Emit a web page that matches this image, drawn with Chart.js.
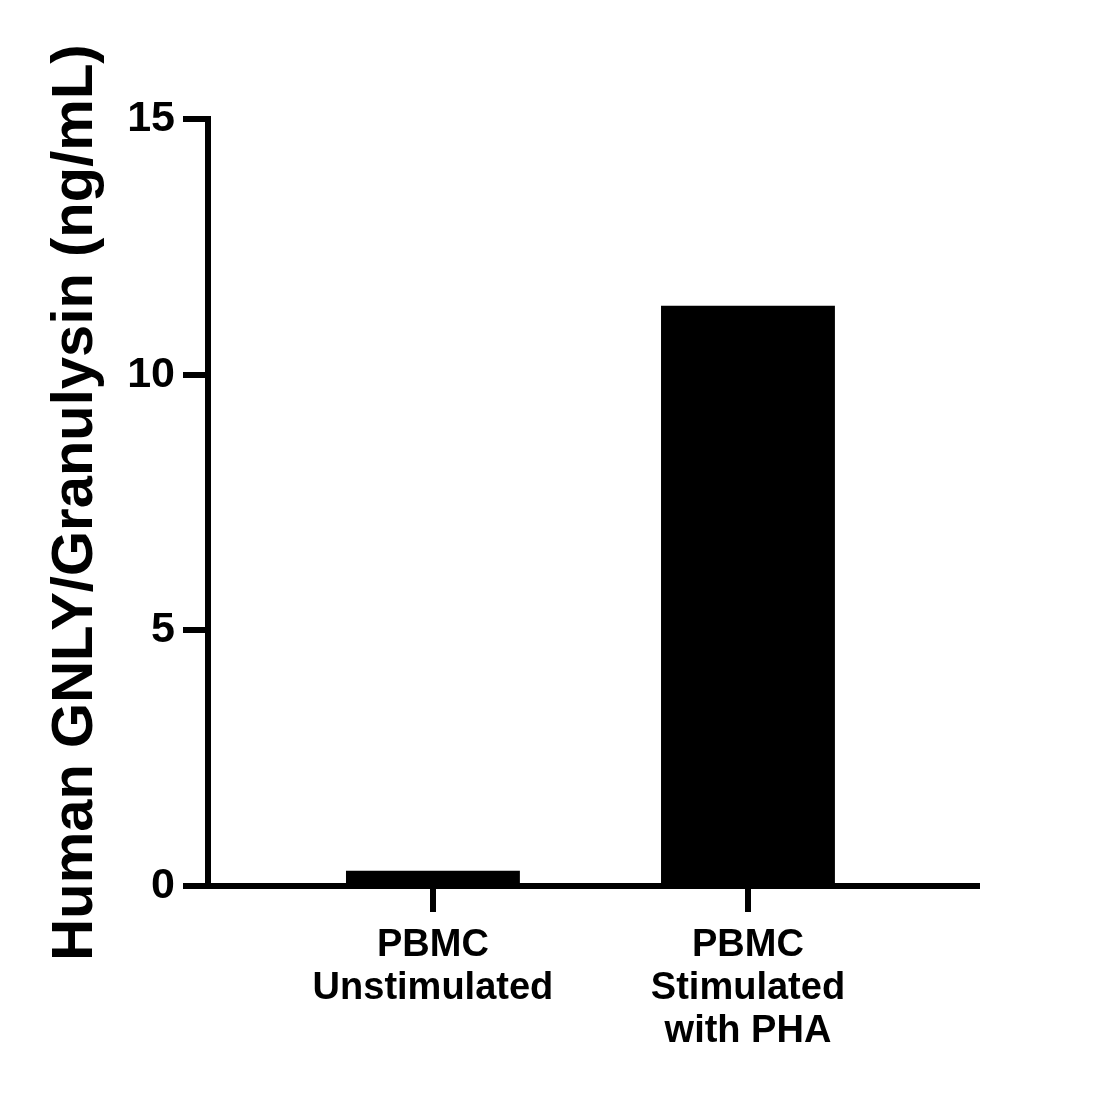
<!DOCTYPE html>
<html>
<head>
<meta charset="utf-8">
<script src="https://cdn.jsdelivr.net/npm/chart.js@4.4.1/dist/chart.umd.min.js"></script>
<style>
  html, body { margin: 0; padding: 0; background: #fff; }
  #wrap { width: 1109px; height: 1097px; position: relative; }
</style>
</head>
<body>
<div id="wrap"><canvas id="gnlyChart"></canvas></div>
<script>
// groups, bar heights and axis ticks
const groupLabels = [['PBMC', 'Unstimulated'], ['PBMC', 'Stimulated', 'with PHA']];
const groupPositions = [1, 2];
const gnlyValues = [0.3, 11.35];
const yTicks = [0, 5, 10, 15];
const yTitle = 'Human GNLY/Granulysin (ng/mL)';

const FONT = 'Arial, "Liberation Sans", Helvetica, sans-serif';

// pin the axis boxes so the plot sits where the reference has it
const AXIS_LEFT = 208;
const AXIS_BOTTOM_SPACE = 211;

new Chart(document.getElementById('gnlyChart'), {
    type: 'bar',
    data: {
        datasets: [{
            data: groupPositions.map((x, i) => ({ x: x, y: gnlyValues[i] })),
            backgroundColor: '#000',
            borderWidth: 0,
            categoryPercentage: 1,
            barPercentage: 0.552,
        }]
    },
    options: {
        responsive: true,
        maintainAspectRatio: false,
        devicePixelRatio: 1,
        animation: false,
        layout: { padding: { top: 119, right: 132, left: 0, bottom: 0 } },
        plugins: {
            legend: { display: false },
            tooltip: { enabled: false }
        },
        scales: {
            x: {
                type: 'linear',
                min: 0.286,
                max: 2.727,
                offset: false,
                afterFit: (scale) => { scale.height = AXIS_BOTTOM_SPACE; },
                afterBuildTicks: (scale) => {
                    scale.ticks = groupPositions.map(v => ({ value: v }));
                },
                ticks: {
                    autoSkip: false,
                    maxRotation: 0,
                    padding: 12,
                    color: '#000',
                    font: { family: FONT, size: 38, weight: 'bold', lineHeight: 1.13 },
                    callback: (value) => {
                        const i = groupPositions.indexOf(value);
                        return i >= 0 ? groupLabels[i] : '';
                    }
                },
                grid: {
                    offset: false,
                    drawOnChartArea: false,
                    drawTicks: true,
                    tickLength: 26,
                    tickWidth: 6,
                    lineWidth: 6,
                    color: '#000'
                },
                border: { display: true, color: '#000', width: 6 }
            },
            y: {
                min: 0,
                max: 15,
                afterFit: (scale) => { scale.width = AXIS_LEFT; },
                afterBuildTicks: (scale) => {
                    scale.ticks = yTicks.map(v => ({ value: v }));
                },
                ticks: {
                    padding: 8,
                    color: '#000',
                    font: { family: FONT, size: 43, weight: 'bold' }
                },
                grid: {
                    drawOnChartArea: false,
                    drawTicks: true,
                    tickLength: 25,
                    tickWidth: 6,
                    lineWidth: 6,
                    color: '#000'
                },
                border: { display: true, color: '#000', width: 6 },
                title: {
                    display: true,
                    text: yTitle,
                    color: '#000',
                    font: { family: FONT, size: 58, weight: 'bold', lineHeight: 1 },
                    padding: { top: 47, bottom: 0 }
                }
            }
        }
    }
});
</script>
</body>
</html>
